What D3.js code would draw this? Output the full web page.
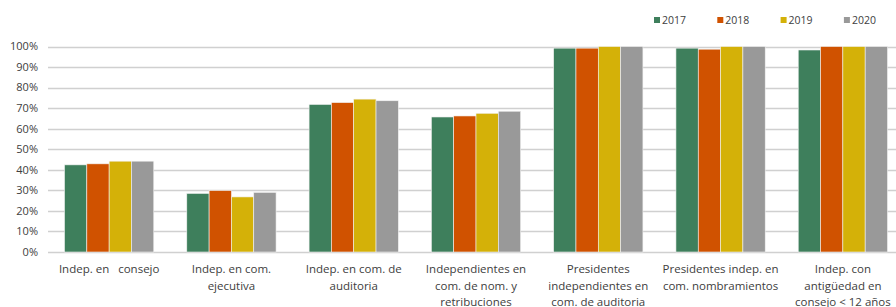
<!DOCTYPE html>
<html>
<head>
<meta charset="utf-8">
<script src="https://cdn.jsdelivr.net/npm/d3@7"></script>
<style>
  body { margin: 0; background: #fff; }
  svg { display: block; font-family: "Open Sans", "Noto Sans", sans-serif; }
</style>
</head>
<body>
<div id="chart"></div>
<script>
var categories = [
  ["Indep. en   consejo"],
  ["Indep. en com.", "ejecutiva"],
  ["Indep. en com. de", "auditoria"],
  ["Independientes en", "com. de nom. y", "retribuciones"],
  ["Presidentes", "independientes en", "com. de auditoria"],
  ["Presidentes indep. en", "com. nombramientos"],
  ["Indep. con", "antigüedad en", "consejo < 12 años"]
];
var years = ["2017", "2018", "2019", "2020"];
var v2017 = [42.4, 28.5, 71.8, 65.7, 99.2, 99.2, 98.3];
var v2018 = [42.9, 29.9, 72.7, 66.2, 99.2, 98.7, 100];
var v2019 = [44.2, 26.8, 74.4, 67.5, 100, 100, 100];
var v2020 = [44.2, 29.0, 73.6, 68.5, 100, 100, 100];
var yTicks = [0, 10, 20, 30, 40, 50, 60, 70, 80, 90, 100];
var colors = ["#3e7f5c", "#d05200", "#d4b108", "#999999"];

var series = [v2017, v2018, v2019, v2020];
var W = 896, H = 307;

var svg = d3.select("#chart").append("svg")
  .attr("width", W).attr("height", H);

var x = d3.scaleBand()
  .domain(d3.range(categories.length))
  .range([48, 904])
  .paddingInner(0.27)
  .paddingOuter(0.135);

var x1 = d3.scaleBand()
  .domain(years)
  .range([0, x.bandwidth()]);

var y = d3.scaleLinear()
  .domain([0, 100])
  .range([252, 46.5]);

// gridlines
svg.append("g").selectAll("line")
  .data(yTicks)
  .enter().append("line")
  .attr("x1", 48).attr("x2", W)
  .attr("y1", function(d) { return Math.round(y(d)) + 0.5; })
  .attr("y2", function(d) { return Math.round(y(d)) + 0.5; })
  .attr("stroke", "#d0d0d0")
  .attr("stroke-width", 1.3);

// y axis labels
svg.append("g").selectAll("text")
  .data(yTicks)
  .enter().append("text")
  .attr("x", 38)
  .attr("y", function(d) { return y(d); })
  .attr("dy", "0.35em")
  .attr("text-anchor", "end")
  .attr("font-size", "11px")
  .attr("fill", "#404040")
  .text(function(d) { return d + "%"; });

// bars
var groups = svg.append("g").selectAll("g")
  .data(categories)
  .enter().append("g")
  .attr("transform", function(d, i) { return "translate(" + x(i) + ",0)"; });

groups.selectAll("rect")
  .data(function(d, i) {
    return years.map(function(yr, k) { return { year: yr, k: k, v: series[k][i] }; });
  })
  .enter().append("rect")
  .attr("x", function(d) { return x1(d.year); })
  .attr("width", x1.bandwidth())
  .attr("y", function(d) { return y(d.v); })
  .attr("height", function(d) { return y(0) - y(d.v); })
  .attr("fill", function(d) { return colors[d.k]; })
  .attr("stroke", "#f2f2f2")
  .attr("stroke-width", 0.6);

// category labels
groups.append("text")
  .attr("x", x.bandwidth() / 2)
  .attr("text-anchor", "middle")
  .attr("font-size", "11.5px")
  .attr("fill", "#404040")
  .style("white-space", "pre")
  .selectAll("tspan")
  .data(function(d) { return d; })
  .enter().append("tspan")
  .attr("x", x.bandwidth() / 2)
  .attr("y", function(d, j) { return 273 + j * 16.5; })
  .text(function(d) { return d; });

// legend
var legend = svg.append("g").selectAll("g")
  .data(years)
  .enter().append("g")
  .attr("transform", function(d, i) { return "translate(" + (654 + i * 63.3) + ",17)"; });

legend.append("rect")
  .attr("width", 6).attr("height", 6)
  .attr("fill", function(d, i) { return colors[i]; });

legend.append("text")
  .attr("x", 8)
  .attr("y", 3)
  .attr("dy", "0.38em")
  .attr("font-size", "10.5px")
  .attr("fill", "#404040")
  .text(function(d) { return d; });
</script>
</body>
</html>
